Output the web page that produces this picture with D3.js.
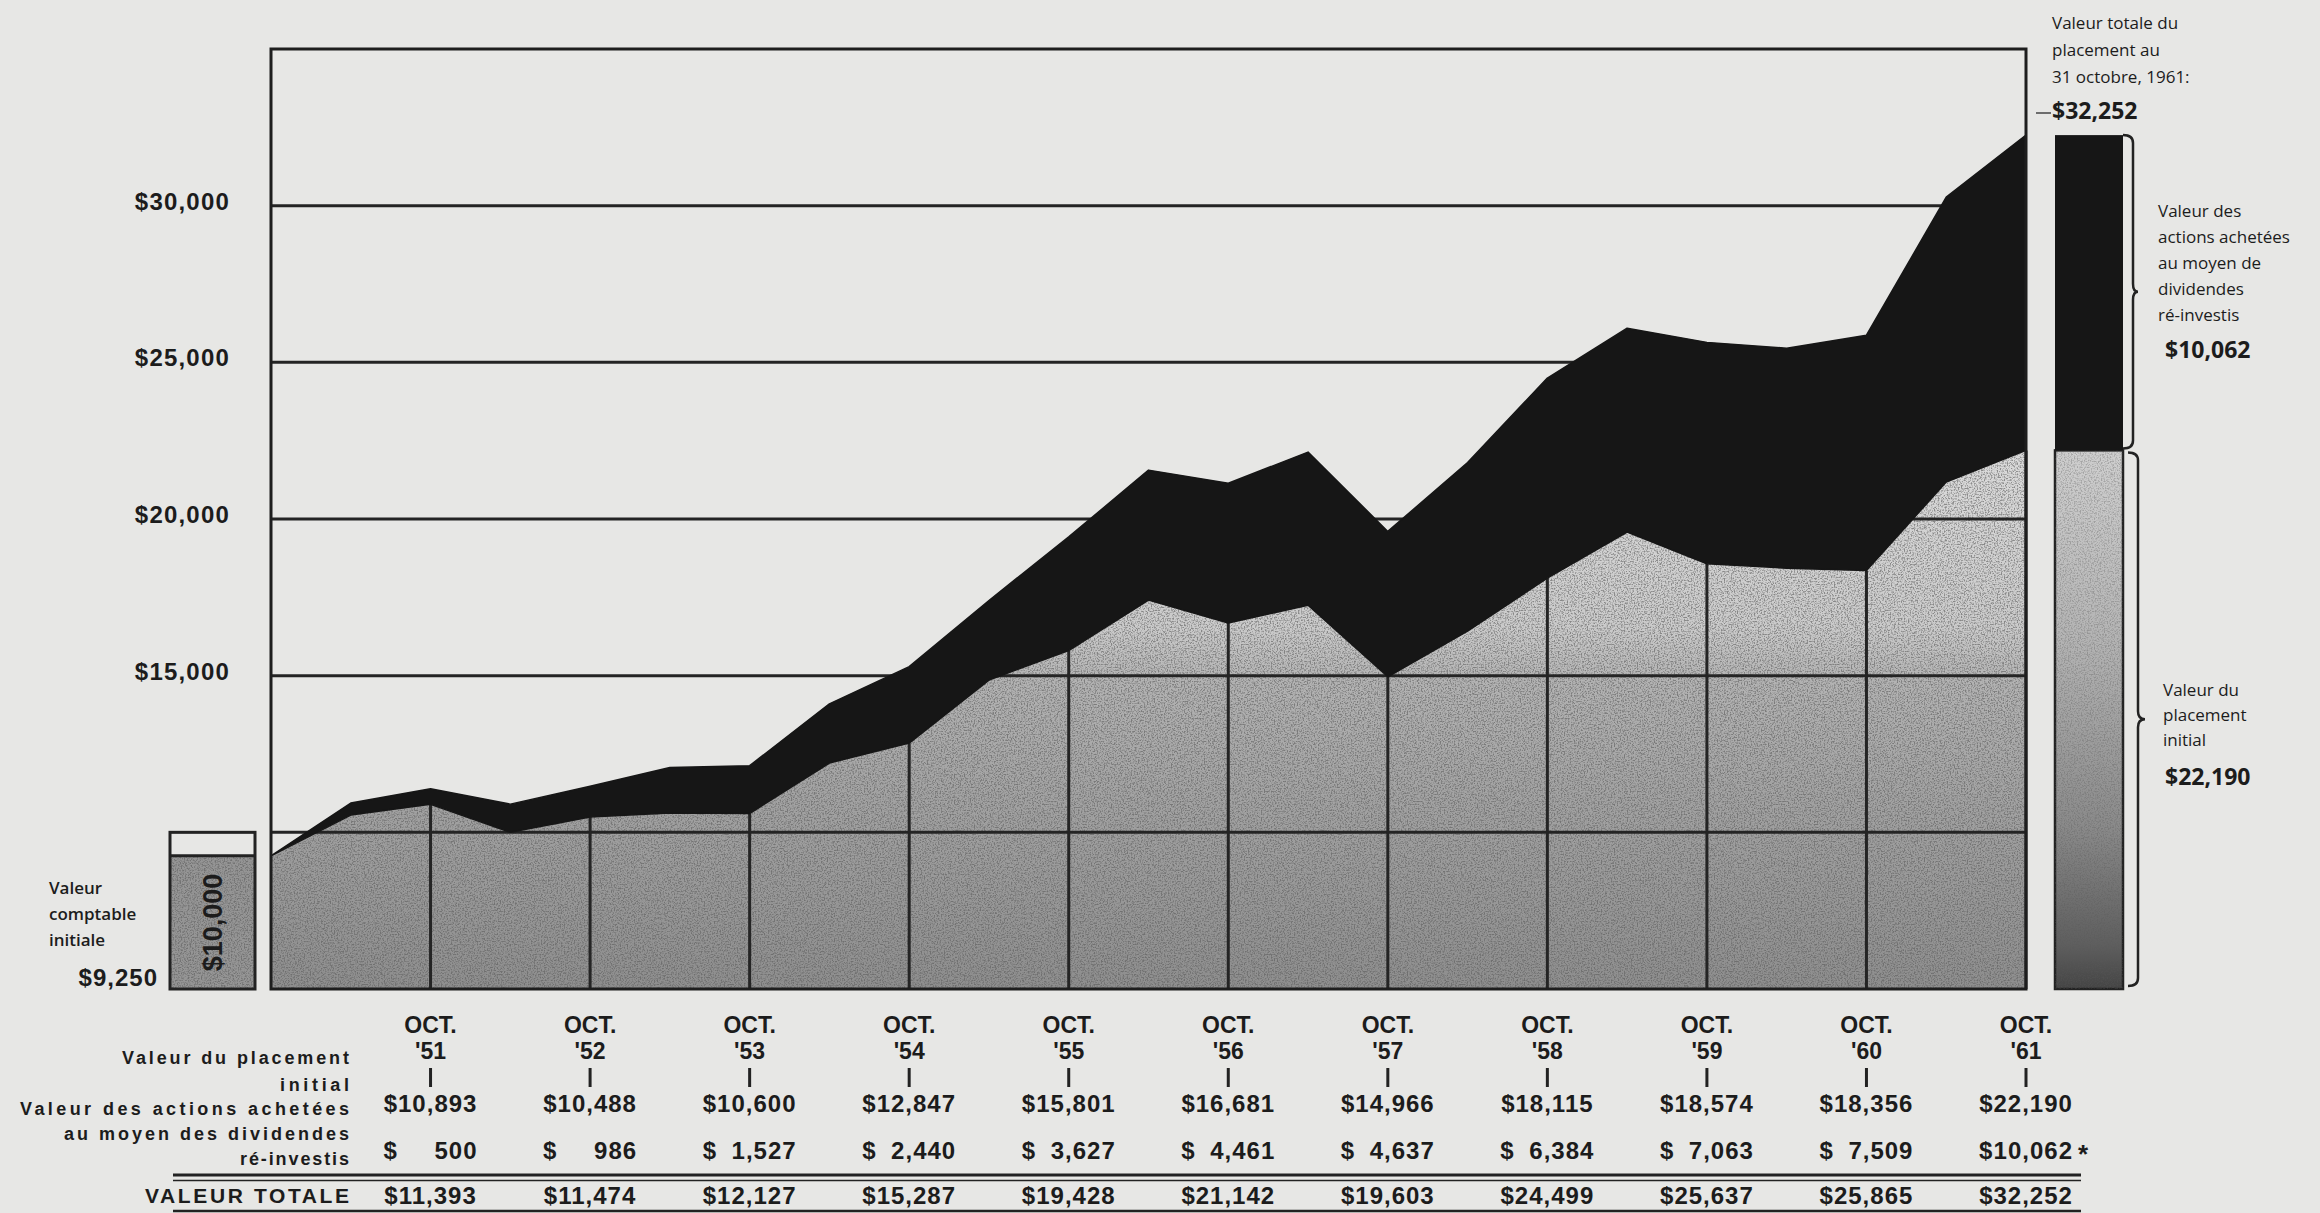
<!DOCTYPE html>
<html>
<head>
<meta charset="utf-8">
<script src="https://cdn.jsdelivr.net/npm/d3@7"></script>
<style>
  body { margin: 0; background: #e7e7e5; }
  svg { display: block; }
  text { font-family: "Liberation Sans", Arial, sans-serif; fill: #1c1c1c; }
  .note { font-family: "Open Sans", "Noto Sans", sans-serif; }
</style>
</head>
<body>
<script>
'use strict';

// october values, as printed in the table under the chart
const yearLabels = ["'51", "'52", "'53", "'54", "'55", "'56", "'57", "'58", "'59", "'60", "'61"];
const initialOct = [10893, 10488, 10600, 12847, 15801, 16681, 14966, 18115, 18574, 18356, 22190];
const dividendsOct = [500, 986, 1527, 2440, 3627, 4461, 4637, 6384, 7063, 7509, 10062];
const totalOct = [11393, 11474, 12127, 15287, 19428, 21142, 19603, 24499, 25637, 25865, 32252];

// april readings in between (not printed)
const initialApr = [10550, 10000, 10620, 12210, 14860, 17410, 17250, 16420, 19580, 18430, 21180];
const dividendsApr = [385, 900, 1450, 1890, 2540, 4150, 4885, 5380, 6510, 7020, 9090];

const startValue = 9250;   // valeur comptable initiale
const bookValue = 10000;   // montant placé
const yTickValues = [15000, 20000, 25000, 30000];
const gridValues = [10000, 15000, 20000, 25000, 30000];

(function() {

  let svgContainer = "";
  let xScale, yScale;
  const fmt = d3.format(",");

  window.onload = function() {
    svgContainer = d3.select('body')
                     .append('svg')
                     .attr('width', 2320)
                     .attr('height', 1213);

    makeDefs();

    // x runs in years from oct '50, y in dollars
    xScale = d3.scaleLinear().domain([0, 11]).range([271, 2026]);
    yScale = d3.scaleLinear().domain([5000, 35000]).range([989, 49]);

    plotData();
    drawAxes();
    makeSideBars();
    makeTable();
    makeLabels();
  }

  // grain for the printed look
  function makeDefs() {
    let defs = svgContainer.append('defs');

    let speckle = defs.append('filter').attr('id', 'speckle')
      .attr('x', 0).attr('y', 0).attr('width', '100%').attr('height', '100%');
    speckle.append('feTurbulence')
      .attr('type', 'fractalNoise').attr('baseFrequency', 0.7)
      .attr('numOctaves', 2).attr('seed', 7).attr('result', 'noise');
    speckle.append('feColorMatrix')
      .attr('in', 'noise').attr('type', 'matrix')
      .attr('values', '0 0 0 0 0.1  0 0 0 0 0.1  0 0 0 0 0.1  0 0 0 -3.5 1.95')
      .attr('result', 'dots');
    speckle.append('feComposite')
      .attr('in', 'dots').attr('in2', 'SourceAlpha').attr('operator', 'in');
  }

  function addGradient(id, y1, y2, stops) {
    let g = svgContainer.select('defs').append('linearGradient')
      .attr('id', id)
      .attr('gradientUnits', 'userSpaceOnUse')
      .attr('x1', 0).attr('x2', 0)
      .attr('y1', y1).attr('y2', y2);
    stops.forEach(s => g.append('stop').attr('offset', s[0]).attr('stop-color', s[1]));
  }

  // the two stacked areas: initial investment (grey) and reinvested dividends (black)
  function plotData() {
    let points = [{t: 0, init: startValue, div: 0}];
    yearLabels.forEach((d, i) => {
      points.push({t: i + 0.5, init: initialApr[i], div: dividendsApr[i]});
      points.push({t: i + 1, init: initialOct[i], div: dividendsOct[i]});
    });

    addGradient('initFill', yScale(5000), yScale(22000), [
      [0, '#8e8e8e'], [0.35, '#a2a2a2'], [0.58, '#b3b3b3'],
      [0.68, '#cbcbcb'], [1, '#dadada']
    ]);

    let initArea = d3.area()
      .x(d => xScale(d.t))
      .y0(yScale(5000))
      .y1(d => yScale(d.init));

    svgContainer.append('path')
      .datum(points)
      .attr('d', initArea)
      .attr('fill', 'url(#initFill)');

    svgContainer.append('path')
      .datum(points)
      .attr('d', initArea)
      .attr('fill', '#000')
      .attr('opacity', 0.6)
      .attr('filter', 'url(#speckle)');

    // horizontal grid lines
    svgContainer.selectAll('.grid')
      .data(gridValues)
      .enter()
      .append('line')
      .attr('class', 'grid')
      .attr('x1', xScale(0)).attr('x2', xScale(11))
      .attr('y1', d => yScale(d)).attr('y2', d => yScale(d))
      .attr('stroke', '#242424')
      .attr('stroke-width', 3);

    // vertical lines rise only to the initial-value edge
    svgContainer.selectAll('.vline')
      .data(initialOct)
      .enter()
      .append('line')
      .attr('class', 'vline')
      .attr('x1', (d, i) => xScale(i + 1)).attr('x2', (d, i) => xScale(i + 1))
      .attr('y1', yScale(5000)).attr('y2', d => yScale(d))
      .attr('stroke', '#242424')
      .attr('stroke-width', 3);

    let divArea = d3.area()
      .x(d => xScale(d.t))
      .y0(d => yScale(d.init))
      .y1(d => yScale(d.init + d.div));

    svgContainer.append('path')
      .datum(points)
      .attr('d', divArea)
      .attr('fill', '#161616')
      .attr('stroke', '#161616')
      .attr('stroke-width', 1.5)
      .attr('stroke-linejoin', 'round');
  }

  // frame and dollar labels
  function drawAxes() {
    svgContainer.append('rect')
      .attr('x', xScale(0))
      .attr('y', yScale(35000))
      .attr('width', xScale(11) - xScale(0))
      .attr('height', yScale(5000) - yScale(35000))
      .attr('fill', 'none')
      .attr('stroke', '#1e1e1e')
      .attr('stroke-width', 3);

    let yAxis = d3.axisLeft(yScale)
      .tickValues(yTickValues)
      .tickFormat(d => '$' + fmt(d))
      .tickSize(0)
      .tickPadding(41);

    let g = svgContainer.append('g')
      .attr('transform', 'translate(' + xScale(0) + ',0)')
      .call(yAxis);
    g.select('.domain').remove();
    g.selectAll('text')
      .attr('dy', '0.15em')
      .style('font-family', '"Liberation Sans", Arial, sans-serif')
      .style('font-size', '24px')
      .style('font-weight', 'bold')
      .style('letter-spacing', '1.2px')
      .attr('fill', '#1c1c1c');
  }

  // book value box on the left, final value bar on the right
  function makeSideBars() {
    let boxX = xScale(0) - 101;
    let boxW = 85;

    svgContainer.append('rect')
      .attr('x', boxX).attr('y', yScale(startValue))
      .attr('width', boxW).attr('height', yScale(5000) - yScale(startValue))
      .attr('fill', '#959595');
    svgContainer.append('rect')
      .attr('x', boxX).attr('y', yScale(startValue))
      .attr('width', boxW).attr('height', yScale(5000) - yScale(startValue))
      .attr('fill', '#000').attr('opacity', 0.6)
      .attr('filter', 'url(#speckle)');
    svgContainer.append('rect')
      .attr('x', boxX).attr('y', yScale(bookValue))
      .attr('width', boxW).attr('height', yScale(5000) - yScale(bookValue))
      .attr('fill', 'none').attr('stroke', '#222').attr('stroke-width', 3);
    svgContainer.append('line')
      .attr('x1', boxX).attr('x2', boxX + boxW)
      .attr('y1', yScale(startValue)).attr('y2', yScale(startValue))
      .attr('stroke', '#222').attr('stroke-width', 3);

    // rotated amount reads bottom to top
    let cx = boxX + boxW / 2;
    let cy = (yScale(startValue) + yScale(5000)) / 2;
    svgContainer.append('text')
      .attr('transform', 'translate(' + (cx + 9) + ',' + cy + ')rotate(-90)')
      .attr('text-anchor', 'middle')
      .style('font-size', '27px')
      .style('font-weight', 'bold')
      .text('$' + fmt(bookValue));

    // final bar
    let barX = xScale(11) + 29;
    let barW = 68;
    let last = yearLabels.length - 1;
    let topY = yScale(totalOct[last]);
    let midY = yScale(initialOct[last]);
    let botY = yScale(5000);

    addGradient('barFill', midY, botY, [
      [0, '#cfcfcf'], [0.35, '#b4b4b4'], [0.7, '#8a8a8a'], [0.92, '#5e5e5e'], [1, '#444']
    ]);

    svgContainer.append('rect')
      .attr('x', barX).attr('y', midY)
      .attr('width', barW).attr('height', botY - midY)
      .attr('fill', 'url(#barFill)')
      .attr('stroke', '#222').attr('stroke-width', 2.5);
    svgContainer.append('rect')
      .attr('x', barX).attr('y', midY)
      .attr('width', barW).attr('height', botY - midY)
      .attr('fill', '#000').attr('opacity', 0.35)
      .attr('filter', 'url(#speckle)');
    svgContainer.append('rect')
      .attr('x', barX).attr('y', topY)
      .attr('width', barW).attr('height', midY - topY)
      .attr('fill', '#161616');

    // curly braces
    let bx = barX + barW + 10;
    drawBrace(bx, topY, midY - 2, 5);
    drawBrace(bx + 5, midY + 2, botY - 3, 7);
  }

  function drawBrace(x, y0, y1, depth) {
    let ym = (y0 + y1) / 2;
    let p = d3.path();
    p.moveTo(x - 10, y0);
    p.quadraticCurveTo(x, y0, x, y0 + 8);
    p.lineTo(x, ym - 8);
    p.quadraticCurveTo(x, ym, x + depth, ym);
    p.quadraticCurveTo(x, ym, x, ym + 8);
    p.lineTo(x, y1 - 8);
    p.quadraticCurveTo(x, y1, x - 10, y1);
    svgContainer.append('path')
      .attr('d', p.toString())
      .attr('fill', 'none')
      .attr('stroke', '#222')
      .attr('stroke-width', 2.5);
  }

  // table of yearly values under the chart
  function makeTable() {
    let colX = i => xScale(i + 1);

    let cols = svgContainer.selectAll('.col')
      .data(yearLabels)
      .enter()
      .append('g')
      .attr('class', 'col')
      .attr('transform', (d, i) => 'translate(' + colX(i) + ',0)');

    cols.append('text')
      .attr('y', 1033).attr('text-anchor', 'middle')
      .style('font-size', '23px').style('font-weight', 'bold')
      .text('OCT.');
    cols.append('text')
      .attr('y', 1059).attr('text-anchor', 'middle')
      .style('font-size', '23px').style('font-weight', 'bold')
      .text(d => d);
    cols.append('line')
      .attr('x1', 0).attr('x2', 0).attr('y1', 1068).attr('y2', 1087)
      .attr('stroke', '#222').attr('stroke-width', 3);

    cols.append('text')
      .attr('y', 1112).attr('text-anchor', 'middle')
      .style('font-size', '24px').style('font-weight', 'bold')
      .style('letter-spacing', '1px')
      .text((d, i) => '$' + fmt(initialOct[i]));

    cols.append('text')
      .attr('x', -47).attr('y', 1159).attr('text-anchor', 'start')
      .style('font-size', '24px').style('font-weight', 'bold')
      .text('$');
    cols.append('text')
      .attr('x', 47).attr('y', 1159).attr('text-anchor', 'end')
      .style('font-size', '24px').style('font-weight', 'bold')
      .style('letter-spacing', '1px')
      .text((d, i) => fmt(dividendsOct[i]));

    cols.append('text')
      .attr('y', 1204).attr('text-anchor', 'middle')
      .style('font-size', '24px').style('font-weight', 'bold')
      .style('letter-spacing', '1px')
      .text((d, i) => '$' + fmt(totalOct[i]));

    // asterisk after the last dividend value
    svgContainer.append('text')
      .attr('x', colX(yearLabels.length - 1) + 52).attr('y', 1163)
      .style('font-size', '26px').style('font-weight', 'bold')
      .text('*');

    // rules above and below the total row
    let x0 = 173, x1 = colX(yearLabels.length - 1) + 55;
    [[1175, 3], [1180.5, 1.5], [1211, 2.5]].forEach(r => {
      svgContainer.append('line')
        .attr('x1', x0).attr('x2', x1).attr('y1', r[0]).attr('y2', r[0])
        .attr('stroke', '#222').attr('stroke-width', r[1]);
    });

    // row labels, right aligned
    let rows = [
      ['Valeur du placement', 1064, 227, 18],
      ['initial', 1091, 69, 18],
      ['Valeur des actions achetées', 1115, 329, 18],
      ['au moyen des dividendes', 1140, 285, 18],
      ['ré-investis', 1165, 109, 18],
      ['VALEUR TOTALE', 1203, 204, 21]
    ];
    rows.forEach(r => {
      svgContainer.append('text')
        .attr('x', 349).attr('y', r[1])
        .attr('text-anchor', 'end')
        .attr('textLength', r[2])
        .attr('lengthAdjust', 'spacing')
        .style('font-size', r[3] + 'px')
        .style('font-weight', 'bold')
        .text(r[0]);
    });
  }

  // side notes
  function makeLabels() {
    let left = ['Valeur', 'comptable', 'initiale'];
    left.forEach((t, i) => {
      svgContainer.append('text')
        .attr('class', 'note')
        .attr('x', 49).attr('y', 894 + i * 26)
        .style('font-size', '17px').style('font-weight', 600)
        .text(t);
    });
    svgContainer.append('text')
      .attr('x', 158).attr('y', 986)
      .attr('text-anchor', 'end')
      .style('font-size', '24px').style('font-weight', 'bold')
      .style('letter-spacing', '1px')
      .text('$' + fmt(startValue));

    let last = yearLabels.length - 1;
    let rx = xScale(11) + 26;

    let top = ['Valeur totale du', 'placement au', '31 octobre, 1961:'];
    top.forEach((t, i) => {
      svgContainer.append('text')
        .attr('class', 'note')
        .attr('x', rx).attr('y', 29 + i * 27)
        .style('font-size', '17px')
        .text(t);
    });
    svgContainer.append('text')
      .attr('class', 'note')
      .attr('x', rx).attr('y', 119)
      .style('font-size', '23px').style('font-weight', 'bold')
      .text('$' + fmt(totalOct[last]));
    svgContainer.append('line')
      .attr('x1', rx - 16).attr('x2', rx - 1).attr('y1', 113).attr('y2', 113)
      .attr('stroke', '#444').attr('stroke-width', 1.5);

    let mid = ['Valeur des', 'actions achetées', 'au moyen de', 'dividendes', 'ré-investis'];
    mid.forEach((t, i) => {
      svgContainer.append('text')
        .attr('class', 'note')
        .attr('x', rx + 106).attr('y', 217 + i * 26)
        .style('font-size', '17px')
        .text(t);
    });
    svgContainer.append('text')
      .attr('class', 'note')
      .attr('x', rx + 113).attr('y', 358)
      .style('font-size', '23px').style('font-weight', 'bold')
      .text('$' + fmt(dividendsOct[last]));

    let low = ['Valeur du', 'placement', 'initial'];
    low.forEach((t, i) => {
      svgContainer.append('text')
        .attr('class', 'note')
        .attr('x', rx + 111).attr('y', 696 + i * 25)
        .style('font-size', '17px')
        .text(t);
    });
    svgContainer.append('text')
      .attr('class', 'note')
      .attr('x', rx + 113).attr('y', 785)
      .style('font-size', '23px').style('font-weight', 'bold')
      .text('$' + fmt(initialOct[last]));
  }

})();
</script>
</body>
</html>
